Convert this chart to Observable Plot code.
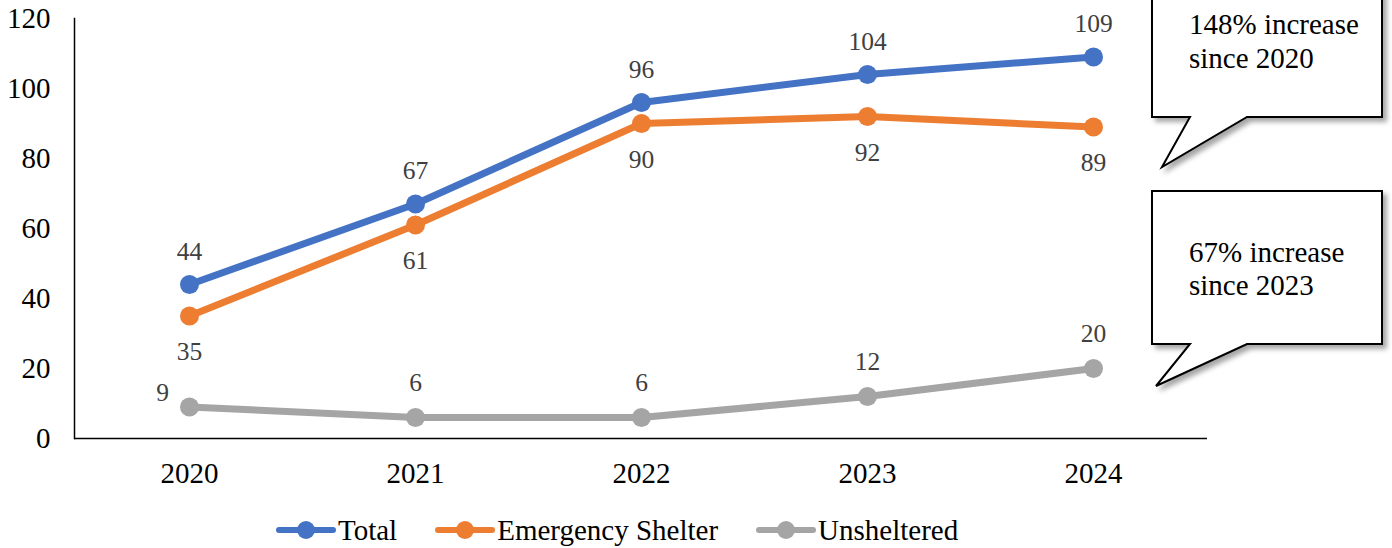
<!DOCTYPE html>
<html><head><meta charset="utf-8">
<script src="https://cdn.jsdelivr.net/npm/d3@7"></script>
<script src="https://cdn.jsdelivr.net/npm/@observablehq/plot@0.6"></script>
<style>
body{margin:0;background:#fff;font-family:"Liberation Serif","Times New Roman",serif;overflow:hidden;}
#chart svg{display:block;overflow:visible;}
#legend{height:60px;display:flex;align-items:center;padding-left:276px;font-size:29px;color:#000;}
.item{display:flex;align-items:center;margin-right:38px;}
.item svg{display:block;margin-right:2px;}
</style></head><body>
<div id="chart"></div><div id="legend"></div>
<script>
const years = ["2020","2021","2022","2023","2024"];
const seriesNames = ["Total","Emergency Shelter","Unsheltered"];
const total = [44,67,96,104,109];
const shelter = [35,61,90,92,89];
const unsheltered = [9,6,6,12,20];
const colors = ["#4472C4","#ED7D31","#A5A5A5"];
const yTicks = [0,20,40,60,80,100,120];
const callouts = [["148% increase","since 2020"],["67% increase","since 2023"]];

const rows = [];
[total, shelter, unsheltered].forEach((vals, s) =>
  vals.forEach((v, i) => rows.push({series: seriesNames[s], year: years[i], value: v, i})));

const lbl = {fill:"#404040", fontSize:25.5, fontFamily:"Liberation Serif"};
const chart = Plot.plot({
  width: 1392, height: 500,
  marginLeft: 74, marginRight: 185, marginTop: 18, marginBottom: 62,
  style: {fontFamily: "Liberation Serif", fontSize: "29px", color: "#000", background: "#fff"},
  x: {type: "point", domain: years, padding: 0.5, label: null},
  y: {domain: [0, 120], label: null},
  color: {domain: seriesNames, range: colors},
  marks: [
    Plot.axisY({ticks: yTicks, tickSize: 0, tickPadding: 24, label: null}),
    Plot.axisX({tickSize: 0, tickPadding: 24, label: null}),
    Plot.frame({anchor: "left", stroke: "#000", strokeWidth: 1.5}),
    Plot.ruleY([0], {stroke: "#000", strokeWidth: 1.5}),
    Plot.line(rows, {x: "year", y: "value", z: "series", stroke: "series", strokeWidth: 7, strokeLinecap: "round", strokeLinejoin: "round"}),
    Plot.dot(rows, {x: "year", y: "value", fill: "series", r: 9.5}),
    Plot.text(rows.filter(d => d.series === "Total"), {x: "year", y: "value", text: "value", dy: -33, ...lbl}),
    Plot.text(rows.filter(d => d.series === "Emergency Shelter"), {x: "year", y: "value", text: "value", dy: 36, ...lbl}),
    Plot.text(rows.filter(d => d.series === "Unsheltered" && d.i > 0), {x: "year", y: "value", text: "value", dy: -35, ...lbl}),
    Plot.text(rows.filter(d => d.series === "Unsheltered" && d.i === 0), {x: "year", y: "value", text: "value", dx: -27, dy: -14, ...lbl})
  ]
});
document.getElementById("chart").appendChild(chart);

// Callouts anchored to the 2024 position
const svg = d3.select(chart);
const xs = chart.scale("x").apply(years[years.length - 1]);
const defs = svg.append("defs");
const f = defs.append("filter").attr("id", "sh").attr("x", "-10%").attr("y", "-10%").attr("width", "130%").attr("height", "130%");
f.append("feDropShadow").attr("dx", 4).attr("dy", 4).attr("stdDeviation", 2.5).attr("flood-color", "#000").attr("flood-opacity", 0.35);
const boxes = [
  {top: -10, bottom: 117, tipX: xs + 69, tipY: 167, lineY: [34, 68]},
  {top: 191, bottom: 344, tipX: xs + 63, tipY: 386, lineY: [262, 295]}
];
const L = xs + 59, R = xs + 289, b1 = xs + 97, b2 = xs + 154;
boxes.forEach((b, k) => {
  const g = svg.append("g").attr("text-anchor", "start");
  g.append("path")
    .attr("d", `M${L},${b.top}L${R},${b.top}L${R},${b.bottom}L${b2},${b.bottom}L${b.tipX},${b.tipY}L${b1},${b.bottom}L${L},${b.bottom}Z`)
    .attr("fill", "#fff").attr("stroke", "#000").attr("stroke-width", 2).attr("stroke-linejoin", "miter")
    .attr("filter", "url(#sh)");
  callouts[k].forEach((t, j) => {
    g.append("text").attr("x", xs + 96).attr("y", b.lineY[j]).attr("text-anchor", "start")
      .attr("font-family", "Liberation Serif").attr("font-size", 29).attr("fill", "#000").text(t);
  });
});

// Legend
const leg = document.getElementById("legend");
seriesNames.forEach((name, i) => {
  const item = document.createElement("div");
  item.className = "item";
  item.innerHTML = `<svg width="60" height="22"><line x1="3" y1="11" x2="57" y2="11" stroke="${colors[i]}" stroke-width="6" stroke-linecap="round"/><circle cx="30" cy="11" r="9" fill="${colors[i]}"/></svg><span>${name}</span>`;
  leg.appendChild(item);
});
</script>
</body></html>
